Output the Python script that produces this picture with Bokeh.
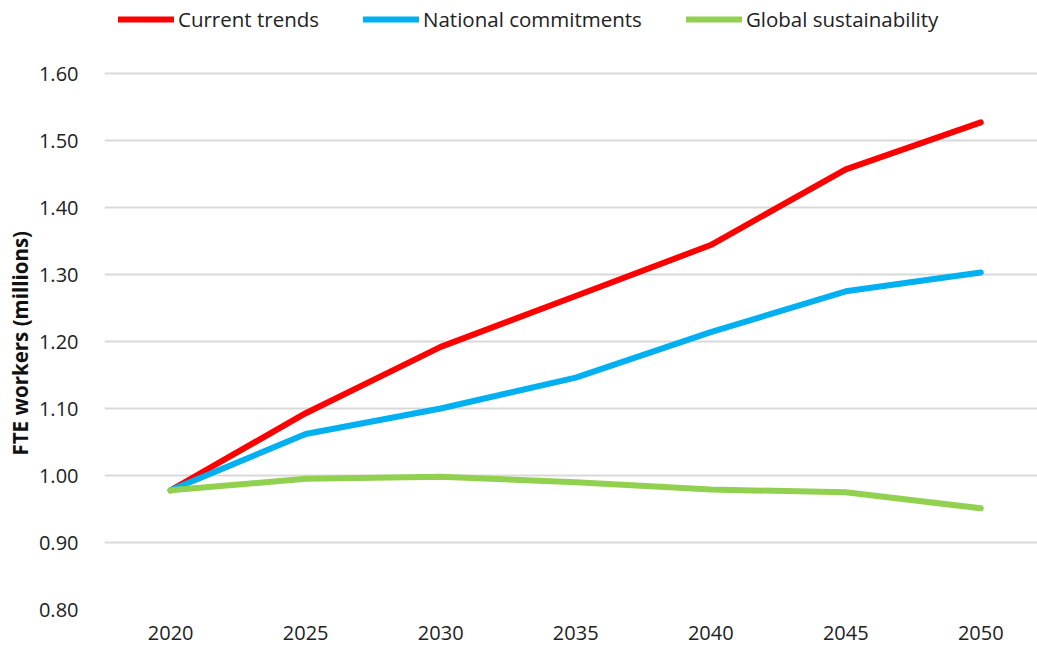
from bokeh.plotting import figure
from bokeh.models import Legend, LegendItem, FixedTicker, Range1d, CustomJSTickFormatter, Title
from bokeh.embed import file_html
from bokeh.resources import INLINE

years = [2020, 2025, 2030, 2035, 2040, 2045, 2050]
current_trends = [0.978, 1.093, 1.192, 1.268, 1.344, 1.457, 1.527]
national_commitments = [0.978, 1.062, 1.100, 1.146, 1.214, 1.275, 1.303]
global_sustainability = [0.978, 0.995, 0.998, 0.990, 0.979, 0.975, 0.951]
y_ticks = [0.8, 0.9, 1.0, 1.1, 1.2, 1.3, 1.4, 1.5, 1.6]
y_label = "FTE workers (millions)"

FONT = "Open Sans"

# frame spans full height above the x axis; extra room above 1.60 holds the legend
p = figure(width=1037, height=646, output_backend="svg", toolbar_location=None,
           x_range=Range1d(2017.55, 2052.1), y_range=Range1d(0.8, 1.709))
p.min_border_left = 104
p.min_border_right = 0
p.min_border_top = 0
p.min_border_bottom = 37
p.outline_line_color = None
p.background_fill_color = "white"
p.border_fill_color = "white"

r1 = p.line(years, current_trends, line_color="#FF0000", line_width=6, line_cap="round", line_join="round")
r2 = p.line(years, national_commitments, line_color="#00B0F0", line_width=6, line_cap="round", line_join="round")
r3 = p.line(years, global_sustainability, line_color="#92D050", line_width=6, line_cap="round", line_join="round")

p.xgrid.visible = False
p.ygrid.grid_line_color = "#D9D9D9"
p.ygrid.grid_line_width = 2
p.yaxis.ticker = FixedTicker(ticks=y_ticks)
p.xaxis.ticker = FixedTicker(ticks=years)
p.yaxis.formatter = CustomJSTickFormatter(code="return tick.toFixed(2);")
p.xaxis.formatter = CustomJSTickFormatter(code="return tick.toFixed(0);")

for ax in (p.xaxis[0], p.yaxis[0]):
    ax.axis_line_color = None
    ax.major_tick_line_color = None
    ax.minor_tick_line_color = None
    ax.major_label_text_font = FONT
    ax.major_label_text_font_size = "20px"
    ax.major_label_text_color = "#222222"

p.yaxis.major_label_standoff = 20
p.xaxis.major_label_standoff = 10

ylab = Title(text=y_label, align="left", offset=154, standoff=4,
             text_font=FONT, text_font_style="bold", text_font_size="20.5px",
             text_color="#111111")
p.add_layout(ylab, "left")

legend = Legend(items=[
    LegendItem(label="Current trends", renderers=[r1]),
    LegendItem(label="National commitments", renderers=[r2]),
    LegendItem(label="Global sustainability", renderers=[r3]),
], orientation="horizontal", location=(14, 576))
legend.padding = 0
legend.margin = 0
legend.border_line_color = None
legend.background_fill_alpha = 0
legend.glyph_width = 56
legend.glyph_height = 20
legend.label_standoff = 4
legend.spacing = 44
legend.label_text_font = FONT
legend.label_text_font_size = "20.5px"
legend.label_text_color = "#222222"
legend.click_policy = "none"
p.add_layout(legend, "center")

open("out.html", "w").write(file_html(p, INLINE))
